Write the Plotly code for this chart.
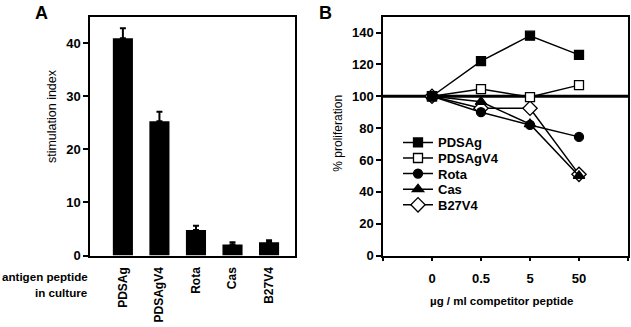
import plotly.graph_objects as go

# ---- Panel A data ----
antigens = ["PDSAg", "PDSAgV4", "Rota", "Cas", "B27V4"]
stim_index = [40.9, 25.3, 4.8, 2.1, 2.5]
stim_err = [1.9, 1.8, 0.8, 0.4, 0.4]
stim_ticks = [0, 10, 20, 30, 40]

# ---- Panel B data ----
doses = ["0", "0.5", "5", "50"]
prolif_PDSAg = [100, 122, 138, 126]
prolif_PDSAgV4 = [100, 104.5, 99.5, 107]
prolif_Rota = [100, 90, 82, 74.5]
prolif_Cas = [100, 96.5, 82.5, 50]
prolif_B27V4 = [100, 92.5, 92.5, 51]
prolif_ticks = [0, 20, 40, 60, 80, 100, 120, 140]
reference_level = 100

W, H = 631, 327
FONT = "Liberation Sans, Arial, sans-serif"
bold12 = dict(family=FONT, size=12, color="black", weight="bold")
bold13 = dict(family=FONT, size=13, color="black", weight="bold")

def px_x(v):
    return v / W

def px_y(v):
    return 1 - v / H

fig = go.Figure()

fig.add_trace(go.Bar(
    x=antigens, y=stim_index, width=0.55,
    marker=dict(color="black", line=dict(width=0)),
    error_y=dict(type="data", symmetric=False, array=stim_err,
                 arrayminus=[0] * len(stim_err), color="black",
                 thickness=2, width=3),
    xaxis="x", yaxis="y", showlegend=False))

series = [
    ("PDSAg", prolif_PDSAg, "square", "black", 9),
    ("PDSAgV4", prolif_PDSAgV4, "square", "white", 9),
    ("Rota", prolif_Rota, "circle", "black", 9),
    ("Cas", prolif_Cas, "triangle-up", "black", 10),
    ("B27V4", prolif_B27V4, "diamond", "white", 11),
]
dose_idx = list(range(len(doses)))
legend_y0 = 146
# draw in reverse so the first series sits on top
for i in reversed(range(len(series))):
    name, vals, sym, fill, size = series[i]
    lg = "legend" if i == 0 else f"legend{i+1}"
    fig.add_trace(go.Scatter(
        x=dose_idx, y=vals, name=name, mode="lines+markers",
        line=dict(color="black", width=1.5),
        marker=dict(symbol=sym, color=fill, size=size,
                    line=dict(color="black", width=1.3)),
        xaxis="x2", yaxis="y2", legend=lg))

layout_legends = {}
for i in range(len(series)):
    lg = "legend" if i == 0 else f"legend{i+1}"
    layout_legends[lg] = dict(
        x=px_x(398), y=px_y(legend_y0 + 16 * i), xanchor="left", yanchor="middle",
        bgcolor="rgba(0,0,0,0)", borderwidth=0, font=bold13,
        itemwidth=30, tracegroupgap=0)

dom_y = [px_y(262), px_y(17)]
axis_common = dict(showline=True, linecolor="black", linewidth=1.5, mirror=True,
                   showgrid=False, zeroline=False,
                   tickcolor="black", tickwidth=1.5)

fig.update_layout(
    width=W, height=H, margin=dict(l=0, r=0, t=0, b=0),
    paper_bgcolor="white", plot_bgcolor="white",
    font=dict(family=FONT, color="black"),
    xaxis=dict(domain=[px_x(90), px_x(295)], anchor="y", type="category",
               range=[-0.9, 4.71], ticks="", tickangle=-90, tickfont=bold12,
               ticklabelstandoff=5, **axis_common),
    yaxis=dict(domain=dom_y, anchor="x", range=[0, 45], tickvals=stim_ticks,
               ticks="outside", ticklen=5, tickfont=bold13, **axis_common),
    xaxis2=dict(domain=[px_x(383), px_x(628)], anchor="y2", range=[-1, len(doses)],
                tickvals=list(range(-1, len(doses) + 1)),
                ticktext=[""] + doses + [""], tickfont=bold13,
                ticks="outside", ticklen=4, ticklabelstandoff=6, **axis_common),
    yaxis2=dict(domain=dom_y, anchor="x2", range=[0, 150], tickvals=prolif_ticks,
                ticks="outside", ticklen=5, tickfont=bold13, **axis_common),
    shapes=[dict(type="line", xref="x2 domain", yref="y2", x0=0, x1=1,
                 y0=reference_level, y1=reference_level,
                 line=dict(color="black", width=3), layer="below")],
    **layout_legends,
)

small_bold = dict(family=FONT, size=11.6, color="black", weight="bold")
ann = [
    dict(text="A", x=px_x(41), y=px_y(13), font=dict(family=FONT, size=18, color="black", weight="bold")),
    dict(text="B", x=px_x(325), y=px_y(13), font=dict(family=FONT, size=18, color="black", weight="bold")),
    dict(text="stimulation index", x=px_x(52), y=px_y(119), textangle=-90,
         font=dict(family=FONT, size=12.5, color="black")),
    dict(text="% proliferation", x=px_x(338), y=px_y(137), textangle=-90,
         font=dict(family=FONT, size=12, color="black")),
    dict(text="µg / ml competitor peptide", x=px_x(501), y=px_y(309),
         font=dict(family=FONT, size=11.5, color="black", weight="bold")),
    dict(text="antigen peptide", x=px_x(89.5), y=px_y(283), xanchor="right",
         font=small_bold),
    dict(text="in culture", x=px_x(89.5), y=px_y(300), xanchor="right",
         font=small_bold),
]
for a in ann:
    a.setdefault("xanchor", "center")
    a.update(xref="paper", yref="paper", yanchor="middle", showarrow=False)
fig.update_layout(annotations=ann)

fig.write_html("out.html")
